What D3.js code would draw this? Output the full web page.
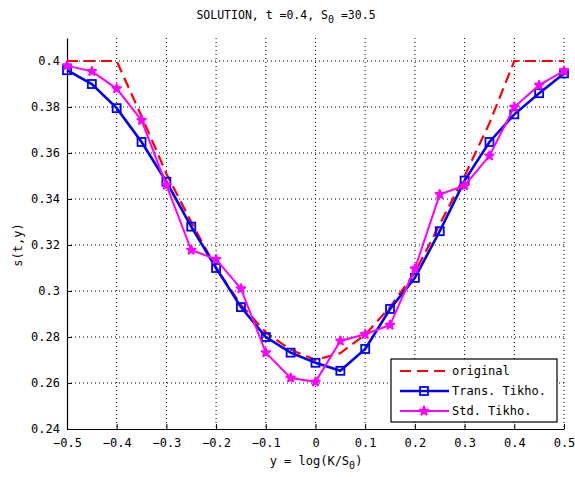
<!DOCTYPE html>
<html>
<head>
<meta charset="utf-8">
<script src="https://cdn.jsdelivr.net/npm/d3@7/dist/d3.min.js"></script>
<style>
  body { margin: 0; background: #fff; }
  text { font-family: "DejaVu Sans Mono", monospace; fill: #000; }
</style>
</head>
<body>
<div id="chart"></div>
<script>
// grid points y = log(K/S0)
var xs = [-0.5, -0.45, -0.4, -0.35, -0.3, -0.25, -0.2, -0.15, -0.1, -0.05, 0,
          0.05, 0.1, 0.15, 0.2, 0.25, 0.3, 0.35, 0.4, 0.45, 0.5];

// original volatility
var original = [0.4, 0.4, 0.4, 0.376, 0.351, 0.330, 0.310, 0.294, 0.282, 0.2745, 0.270,
                0.273, 0.281, 0.293, 0.308, 0.329, 0.350, 0.373, 0.4, 0.4, 0.4];
// Trans. Tikho.
var transTikho = [0.396, 0.390, 0.3795, 0.3648, 0.3475, 0.328, 0.310, 0.293, 0.280, 0.2732, 0.2688,
                  0.2653, 0.2748, 0.2922, 0.3057, 0.326, 0.348, 0.3648, 0.3768, 0.386, 0.3946];
// Std. Tikho.
var stdTikho = [0.398, 0.3955, 0.388, 0.3742, 0.346, 0.3178, 0.3138, 0.301, 0.2732, 0.2622, 0.2605,
                0.2783, 0.2812, 0.2852, 0.3097, 0.342, 0.3458, 0.3588, 0.380, 0.3895, 0.3957];

var xTicks = [-0.5, -0.4, -0.3, -0.2, -0.1, 0, 0.1, 0.2, 0.3, 0.4, 0.5];
var yTicks = [0.24, 0.26, 0.28, 0.3, 0.32, 0.34, 0.36, 0.38, 0.4];

var svgWidth = 575;
var svgHeight = 477;
var margin = {top: 38, right: 11, bottom: 48, left: 67};
var chartWidth = svgWidth - margin.left - margin.right;
var chartHeight = svgHeight - margin.top - margin.bottom;

var svg = d3.select("#chart")
  .append("svg")
  .attr("width", svgWidth)
  .attr("height", svgHeight)
  .style("background", "#fff");

var chartGroup = svg.append("g")
  .attr("transform", "translate(" + margin.left + "," + margin.top + ")");

var xScale = d3.scaleLinear().domain([-0.5, 0.5]).range([0, chartWidth]);
var yScale = d3.scaleLinear().domain([0.24, 0.41]).range([chartHeight, 0]);

// dotted grid
chartGroup.append("g").selectAll("line")
  .data(xTicks.slice(1))
  .enter().append("line")
  .attr("x1", function(d) { return xScale(d); })
  .attr("x2", function(d) { return xScale(d); })
  .attr("y1", 0).attr("y2", chartHeight)
  .attr("stroke", "#000").attr("stroke-width", 1)
  .attr("stroke-dasharray", "1,3");
chartGroup.append("g").selectAll("line")
  .data(yTicks.slice(1))
  .enter().append("line")
  .attr("x1", 0).attr("x2", chartWidth)
  .attr("y1", function(d) { return yScale(d); })
  .attr("y2", function(d) { return yScale(d); })
  .attr("stroke", "#000").attr("stroke-width", 1)
  .attr("stroke-dasharray", "1,3");

// axes (inward ticks, MATLAB style)
var bottomAxis = d3.axisBottom(xScale).tickValues(xTicks).tickSizeInner(-5).tickSizeOuter(0)
  .tickPadding(9).tickFormat(function(d) { return d === 0 ? "0" : d3.format("")(d).replace("-", "\u2212"); });
var leftAxis = d3.axisLeft(yScale).tickValues(yTicks).tickSizeInner(-5).tickSizeOuter(0)
  .tickPadding(7).tickFormat(function(d) { return d3.format("")(+d.toFixed(2)); });

var gx = chartGroup.append("g")
  .attr("transform", "translate(0," + chartHeight + ")")
  .call(bottomAxis);
var gy = chartGroup.append("g").call(leftAxis);
[gx, gy].forEach(function(g) {
  g.selectAll("path").attr("stroke", "#000").attr("stroke-width", 1.2);
  g.selectAll("line").attr("stroke", "#000");
  g.selectAll("text").style("font-size", "12px").style("font-family", "DejaVu Sans Mono, monospace");
});

// series
var lineGen = d3.line()
  .x(function(d) { return xScale(d[0]); })
  .y(function(d) { return yScale(d[1]); });

chartGroup.append("path")
  .datum(d3.zip(xs, original))
  .attr("d", lineGen)
  .attr("fill", "none").attr("stroke", "#ff0000")
  .attr("stroke-width", 2.2).attr("stroke-dasharray", "11,6");

chartGroup.append("path")
  .datum(d3.zip(xs, transTikho))
  .attr("d", lineGen)
  .attr("fill", "none").attr("stroke", "#0000ff").attr("stroke-width", 2.6);
chartGroup.selectAll(".sq")
  .data(d3.zip(xs, transTikho))
  .enter().append("rect")
  .attr("class", "sq")
  .attr("x", function(d) { return xScale(d[0]) - 4; })
  .attr("y", function(d) { return yScale(d[1]) - 4; })
  .attr("width", 8).attr("height", 8)
  .attr("fill", "none").attr("stroke", "#0000ff").attr("stroke-width", 1.8);

chartGroup.append("path")
  .datum(d3.zip(xs, stdTikho))
  .attr("d", lineGen)
  .attr("fill", "none").attr("stroke", "#ff00ff").attr("stroke-width", 2);
var star = d3.symbol().type(d3.symbolStar).size(22);
chartGroup.selectAll(".st")
  .data(d3.zip(xs, stdTikho))
  .enter().append("path")
  .attr("class", "st")
  .attr("d", star)
  .attr("transform", function(d) { return "translate(" + xScale(d[0]) + "," + yScale(d[1]) + ")"; })
  .attr("fill", "#ff00ff").attr("stroke", "#ff00ff").attr("stroke-width", 2)
  .attr("stroke-linejoin", "round");

// title and axis labels
var title = svg.append("text")
  .attr("x", 286).attr("y", 19)
  .attr("text-anchor", "middle")
  .style("font-size", "11.5px");
title.append("tspan").text("SOLUTION, t =0.4, S");
title.append("tspan").attr("dy", 4).style("font-size", "10px").text("0");
title.append("tspan").attr("dy", -4).text(" =30.5");

var xLabel = svg.append("text")
  .attr("x", 316).attr("y", 465)
  .attr("text-anchor", "middle")
  .style("font-size", "12px");
xLabel.append("tspan").text("y = log(K/S");
xLabel.append("tspan").attr("dy", 4).style("font-size", "10px").text("0");
xLabel.append("tspan").attr("dy", -4).text(")");

svg.append("text")
  .attr("transform", "translate(22,245) rotate(-90)")
  .attr("text-anchor", "middle")
  .style("font-size", "12px")
  .text("s(t,y)");

// legend
var legend = svg.append("g").attr("transform", "translate(391,359)");
legend.append("rect")
  .attr("width", 166).attr("height", 63)
  .attr("fill", "#fff").attr("stroke", "#000").attr("stroke-width", 1.2);
var legendItems = [
  {label: "original", color: "#ff0000", dash: "11,6", marker: null, w: 2.2},
  {label: "Trans. Tikho.", color: "#0000ff", dash: null, marker: "sq", w: 2.6},
  {label: "Std. Tikho.", color: "#ff00ff", dash: null, marker: "star", w: 2}
];
legendItems.forEach(function(item, i) {
  var y = 12 + i * 20;
  legend.append("line")
    .attr("x1", 9).attr("x2", 58).attr("y1", y).attr("y2", y)
    .attr("stroke", item.color).attr("stroke-width", item.w)
    .attr("stroke-dasharray", item.dash);
  if (item.marker === "sq") {
    legend.append("rect")
      .attr("x", 29).attr("y", y - 4).attr("width", 8).attr("height", 8)
      .attr("fill", "none").attr("stroke", item.color).attr("stroke-width", 1.8);
  } else if (item.marker === "star") {
    legend.append("path").attr("d", star)
      .attr("transform", "translate(33," + y + ")")
      .attr("fill", item.color).attr("stroke", item.color).attr("stroke-width", 2)
      .attr("stroke-linejoin", "round");
  }
  legend.append("text")
    .attr("x", 61).attr("y", y + 4)
    .style("font-size", "12px")
    .text(item.label);
});
</script>
</body>
</html>
